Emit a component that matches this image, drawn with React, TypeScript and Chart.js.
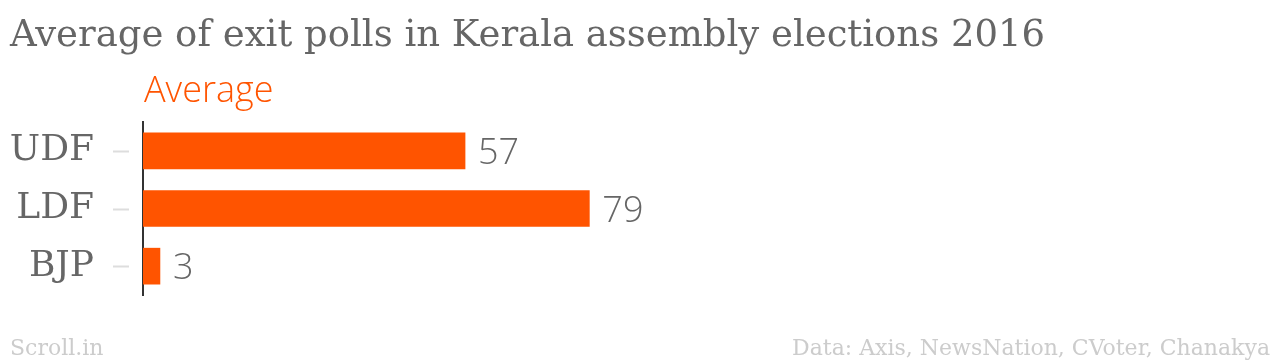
import React, { useEffect, useRef } from "react";
import { Chart, registerables } from "chart.js";

Chart.register(...registerables);

const TITLE = "Average of exit polls in Kerala assembly elections 2016";
const SERIES_NAME = "Average";
const CATEGORIES = ["UDF", "LDF", "BJP"];
const VALUES = [57, 79, 3];
const SOURCE_LEFT = "Scroll.in";
const SOURCE_RIGHT = "Data: Axis, NewsNation, CVoter, Chanakya";

const ORANGE = "#ff5400";
const SERIF = "'DejaVu Serif', serif";
const SANS = "'Open Sans', sans-serif";

const overlay = {
  id: "overlay",
  afterDraw(chart: any) {
    const ctx = chart.ctx;
    const area = chart.chartArea;
    const yScale = chart.scales.y;
    const meta = chart.getDatasetMeta(0);
    ctx.save();
    // title
    ctx.fillStyle = "#666666";
    ctx.font = `37px ${SERIF}`;
    ctx.textAlign = "left";
    ctx.textBaseline = "alphabetic";
    ctx.fillText(TITLE, 10, 46);
    // series name
    ctx.fillStyle = ORANGE;
    ctx.font = `300 36px ${SANS}`;
    ctx.fillText(SERIES_NAME, area.left + 1, 102);
    // tick marks
    ctx.strokeStyle = "#dddddd";
    ctx.lineWidth = 2;
    CATEGORIES.forEach((_, i) => {
      const y = Math.round(yScale.getPixelForValue(i)) + 0.5;
      ctx.beginPath();
      ctx.moveTo(113, y);
      ctx.lineTo(129, y);
      ctx.stroke();
    });
    // value labels
    ctx.fillStyle = "#666666";
    ctx.font = `300 36px ${SANS}`;
    ctx.textBaseline = "middle";
    meta.data.forEach((bar: any, i: number) => {
      ctx.fillText(String(VALUES[i]), bar.x + 13, bar.y + 3);
    });
    // footers
    ctx.textBaseline = "alphabetic";
    ctx.fillStyle = "#cccccc";
    ctx.font = `22px ${SERIF}`;
    ctx.fillText(SOURCE_LEFT, 10, 355);
    ctx.textAlign = "right";
    ctx.fillText(SOURCE_RIGHT, 1270, 355);
    ctx.restore();
  },
};

export default function App() {
  const ref = useRef<HTMLCanvasElement>(null);
  useEffect(() => {
    if (!ref.current) return;
    const chart = new Chart(ref.current, {
      type: "bar",
      data: {
        labels: CATEGORIES,
        datasets: [
          {
            label: SERIES_NAME,
            data: VALUES,
            backgroundColor: ORANGE,
            borderWidth: 0,
            barThickness: 36,
          },
        ],
      },
      options: {
        indexAxis: "y",
        animation: false,
        responsive: true,
        maintainAspectRatio: false,
        layout: { padding: { left: 0, right: 572, top: 122, bottom: 67 } },
        plugins: {
          legend: { display: false },
          title: { display: false },
          tooltip: { enabled: false },
        },
        scales: {
          x: { display: false, min: 0, max: 100 },
          y: {
            afterFit: (scale: any) => {
              scale.width = 143;
            },
            grid: { display: false },
            border: { display: true, color: "#333333", width: 2 },
            ticks: {
              padding: 41,
              color: "#666666",
              font: { family: SERIF, size: 36 },
            },
          },
        },
      },
      plugins: [overlay],
    });
    return () => chart.destroy();
  }, []);
  return (
    <div style={{ position: "fixed", left: 0, top: 0, width: 1280, height: 362, background: "#fff" }}>
      <canvas ref={ref} />
    </div>
  );
}
